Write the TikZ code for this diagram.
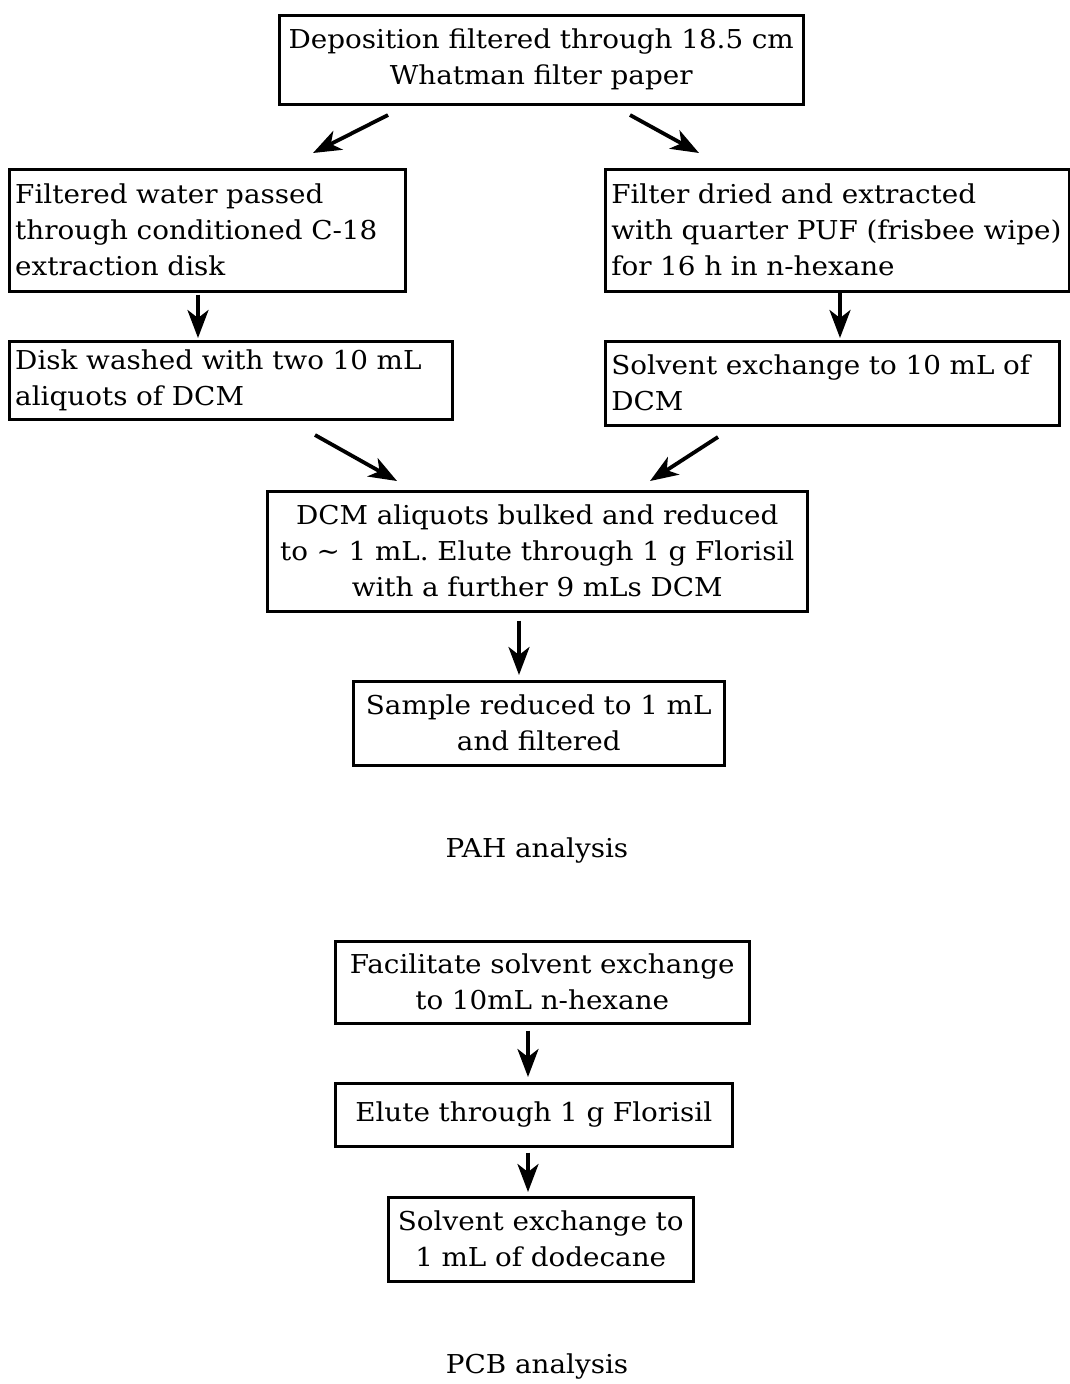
\documentclass[tikz,border=0pt]{standalone}
\usepackage{fontspec}
\setmainfont[FakeStretch=1.07]{DejaVu Serif}
\usetikzlibrary{arrows.meta}
\begin{document}
\begin{tikzpicture}[x=1pt,y=-1pt,
  boxc/.style={draw, line width=2.5pt, anchor=north west, inner xsep=0pt, inner ysep=0pt, align=center, font=\fontsize{26}{36}\selectfont},
  boxl/.style={draw, line width=2.5pt, anchor=north west, inner xsep=6pt, inner ysep=0pt, align=left, font=\fontsize{26}{36}\selectfont},
  arr/.style={line width=3.8pt, -{Stealth[length=28pt,width=21pt,inset=8pt]}},
  lbl/.style={font=\fontsize{26}{36}\selectfont}]
\useasboundingbox (0,0) rectangle (1070,1384);
\node[boxc, minimum width=524, minimum height=89, text width=524] (b1) at (278,14) {Deposition filtered through 18.5 cm\\Whatman filter paper};
\node[boxl, minimum width=396, minimum height=122, text width=384] (b2) at (8,168) {Filtered water passed\\through conditioned C-18\\extraction disk};
\node[boxl, minimum width=464, minimum height=122, text width=452] (b3) at (604,168) {Filter dried and extracted\\with quarter PUF (frisbee wipe)\\for 16 h in n-hexane};
\node[boxl, minimum width=443, minimum height=78, text width=431] (b4) at (8,340) {Disk washed with two 10 mL\\aliquots of DCM};
\node[boxl, minimum width=454, minimum height=84, text width=442] (b5) at (604,340) {Solvent exchange to 10 mL of\\DCM};
\node[boxc, minimum width=540, minimum height=120, text width=540] (b6) at (266,490) {DCM aliquots bulked and reduced\\to \textasciitilde{} 1 mL. Elute through 1 g Florisil\\with a further 9 mLs DCM};
\node[boxc, minimum width=371, minimum height=84, text width=371] (b7) at (352,680) {Sample reduced to 1 mL\\and filtered};
\node[lbl] (pah) at (537,850) {PAH analysis};
\node[boxc, minimum width=414, minimum height=82, text width=414] (b8) at (334,940) {Facilitate solvent exchange\\to 10mL n-hexane};
\node[boxc, minimum width=397, minimum height=63, text width=397] (b9) at (334,1082) {Elute through 1 g Florisil};
\node[boxc, minimum width=305, minimum height=84, text width=305] (b10) at (387,1196) {Solvent exchange to\\1 mL of dodecane};
\node[lbl] (pcb) at (537,1366) {PCB analysis};
\coordinate (a1s) at (388,115); \coordinate (a1e) at (313,153);
\coordinate (a2s) at (630,115); \coordinate (a2e) at (699,153);
\coordinate (a3s) at (315,435); \coordinate (a3e) at (397,481);
\coordinate (a4s) at (718,437); \coordinate (a4e) at (650,481);
\draw[arr] (a1s) -- (a1e);
\draw[arr] (a2s) -- (a2e);
\draw[arr] (a3s) -- (a3e);
\draw[arr] (a4s) -- (a4e);
\draw[arr] (b2.south -| 198,0) ++(0,2) -- (198,338);
\draw[arr] (840,292) -- (840,338);
\draw[arr] (b6.south -| 519,0) ++(0,8) -- (519,675);
\draw[arr] (b8.south -| 528,0) ++(0,6) -- (528,1077);
\draw[arr] (b9.south -| 528,0) ++(0,5) -- (528,1192);
\end{tikzpicture}
\end{document}
